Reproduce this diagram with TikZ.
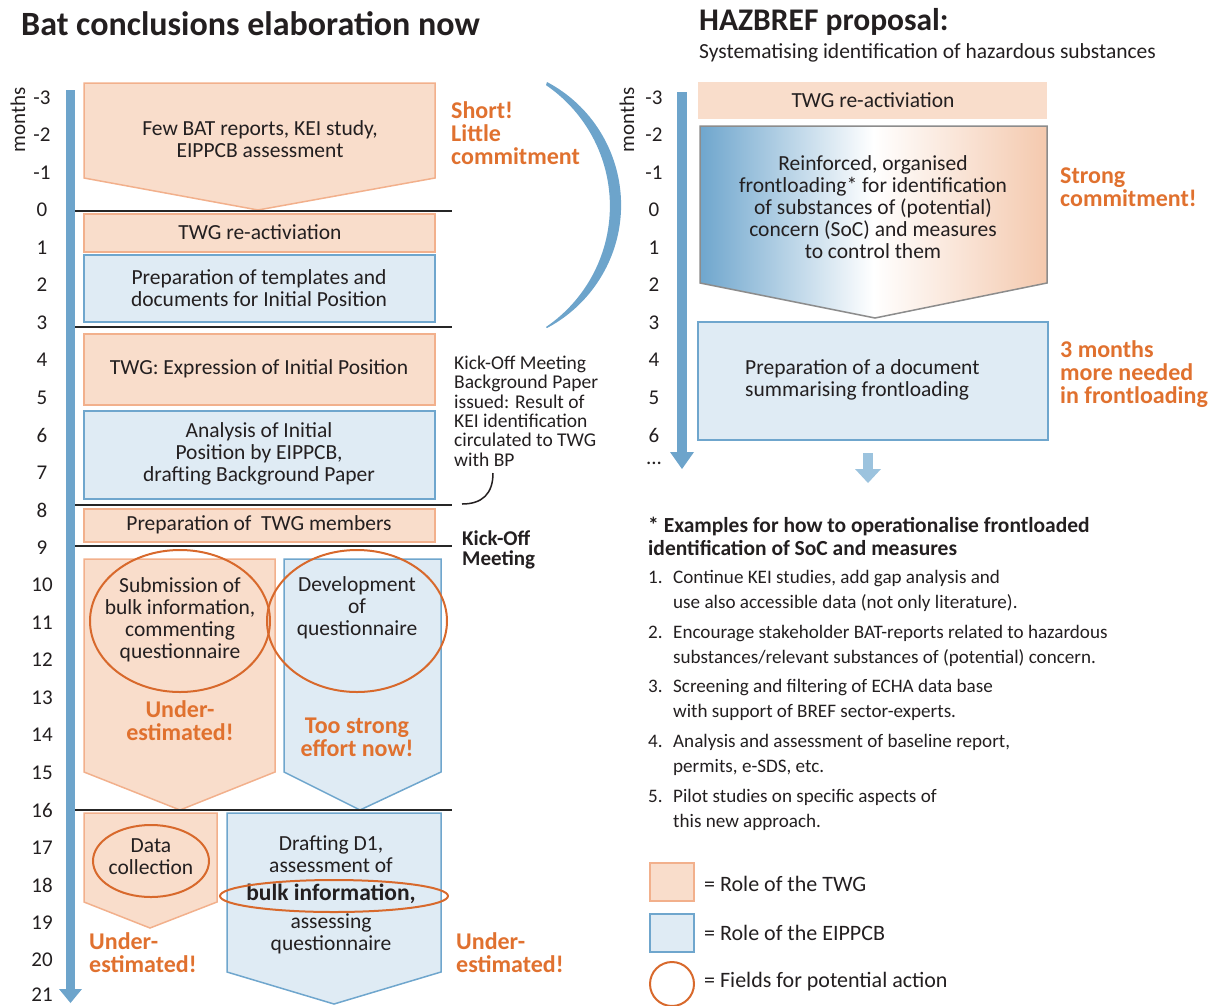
\documentclass[tikz,border=0pt]{standalone}
\usepackage{fontspec}
\setmainfont{Carlito}
\definecolor{peachF}{HTML}{F9DDCB}
\definecolor{peachL}{HTML}{F2B08C}
\definecolor{blueF}{HTML}{DFEBF4}
\definecolor{blueL}{HTML}{6FA6CD}
\definecolor{barC}{HTML}{6DA4CB}
\definecolor{barLight}{HTML}{9CC3DE}
\definecolor{orangeT}{HTML}{E0712F}
\definecolor{ringC}{HTML}{D8692C}
\definecolor{txtC}{HTML}{231F20}
\definecolor{gradR}{HTML}{F4C9AE}
\newcommand\fsz[2]{\fontsize{#1}{#2}\selectfont}
\begin{document}
\begin{tikzpicture}[x=1pt,y=-1pt,
  txt/.style={font=\fsz{21.5}{22}, text=txtC, align=center, inner sep=0pt},
  smalltxt/.style={font=\fsz{19.5}{19.4}, text=txtC, align=left, inner sep=0pt, anchor=west},
  listtxt/.style={font=\fsz{19.1}{24.5}, text=txtC, align=left, inner sep=0pt, anchor=west},
  num/.style={font=\fsz{21}{22}, text=txtC, inner sep=0pt},
  otxt/.style={font=\fsz{24}{23}\bfseries, text=orangeT, align=left, inner sep=0pt},
  peachbox/.style={fill=peachF, draw=peachL, line width=1.5pt},
  bluebox/.style={fill=blueF, draw=blueL, line width=1.5pt},
  ring/.style={draw=ringC, line width=2pt},
  sepline/.style={draw=black!85, line width=1.6pt},
  barstyle/.style={fill=barC, draw=none},
  title/.style={font=\fsz{34}{34}\bfseries, text=txtC, inner sep=0pt, anchor=west}
]
\useasboundingbox (0,0) rectangle (1213,1005);

% ---------- titles ----------
\node[title] (t1) at (21,24) {Bat conclusions elaboration now};
\node[title, font=\fsz{31.5}{31.5}\bfseries] (t2) at (699,22) {HAZBREF proposal:};
\node[txt, font=\fsz{21.5}{21.5}, anchor=west] (t3) at (699,53) {Systematising identification of hazardous substances};

% ---------- left time axis ----------
\fill[barstyle] (66,90) rectangle (75,990);
\fill[barstyle] (59,989) -- (82,989) -- (70.5,1003) -- cycle;
\node[num, rotate=90] (mL) at (18,120) {months};
\foreach \m in {-3,...,20} {
  \node[num] (l\m) at (42,{210+37.5*\m}) {\m};
}
\node[num] (l21) at (42,995) {21};

% ---------- left boxes ----------
\draw[peachbox] (84,83) -- (435,83) -- (435,178) -- (258,210) -- (84,178) -- cycle;
\node[txt] (b1) at (260,139) {Few BAT reports, KEI study,\\EIPPCB assessment};

\draw[peachbox] (84,214) rectangle (435,252);
\node[txt] (b2) at (260,232) {TWG re-activiation};

\draw[bluebox] (84,255) rectangle (435,322);
\node[txt] (b3) at (259,288) {Preparation of templates and\\documents for Initial Position};

\draw[peachbox] (84,334) rectangle (435,405);
\node[txt] (b4) at (259,369) {TWG: Expression of Initial Position};

\draw[bluebox] (84,411) rectangle (435,499);
\node[txt] (b5) at (259,454) {Analysis of Initial\\Position by EIPPCB,\\drafting Background Paper};

\draw[peachbox] (84,509) rectangle (435,542);
\node[txt] (b6) at (259,525) {Preparation of \ TWG members};

\draw[peachbox] (84,559) -- (275,559) -- (275,772) -- (180,810) -- (84,772) -- cycle;
\draw[bluebox] (284,559) -- (441,559) -- (441,772) -- (360,810) -- (284,772) -- cycle;
\node[txt] (b7) at (180,620) {Submission of\\bulk information,\\commenting\\questionnaire};
\node[txt] (b8) at (357,608) {Development\\of\\questionnaire};
\draw[ring] (180,621) ellipse [x radius=90, y radius=71];
\draw[ring] (357,621) ellipse [x radius=90, y radius=71];
\node[otxt, align=center] (o1) at (180,721) {Under-\\estimated!};
\node[otxt, align=center] (o2) at (357,737) {Too strong\\effort now!};

\draw[peachbox] (84,813) -- (217,813) -- (217,902) -- (150,928) -- (84,902) -- cycle;
\draw[bluebox] (227,813) -- (441,813) -- (441,972) -- (334,1004) -- (227,972) -- cycle;
\node[txt] (b9) at (151,857) {Data\\collection};
\draw[ring] (151,861) ellipse [x radius=58, y radius=36];
\node[txt] (b10) at (331,895) {Drafting D1,\\assessment of\\[6pt]{\fsz{23.5}{22}\bfseries bulk information,}\\[6pt]assessing\\questionnaire};
\draw[ring] (334,896) ellipse [x radius=114, y radius=16];
\node[otxt, anchor=west] (o3) at (89,953) {Under-\\estimated!};
\node[otxt, anchor=west] (o4) at (456,953) {Under-\\estimated!};

% ---------- separators ----------
\draw[sepline] (75,211) -- (452,211);
\draw[sepline] (75,327) -- (452,327);
\draw[sepline] (75,505) -- (452,505);
\draw[sepline] (75,546) -- (452,546);
\draw[sepline] (75,810) -- (452,810);

% ---------- side notes left ----------
\node[otxt, anchor=west] (o5) at (451,133) {Short!\\Little\\commitment};
\fill[barC] (547,82) arc[start angle=-62.1, end angle=62.1, radius=139.2]
  -- (546,327) arc[start angle=55.7, end angle=-55.7, radius=146.4] -- cycle;
\node[smalltxt] (kn) at (454,411) {Kick-Off Meeting\\Background Paper\\issued: Result of\\KEI identification\\circulated to TWG\\with BP};
\coordinate (k1) at (493,473);
\coordinate (k2) at (462,504);
\draw[line width=1.5pt, txtC] (k1) .. controls (493,494) and (482,504) .. (k2);
\node[otxt, font=\fsz{21}{20}\bfseries, text=txtC, anchor=west] (ko) at (462,550) {Kick-Off\\Meeting};

% ---------- right time axis ----------
\fill[barstyle] (677,92) rectangle (687,453);
\fill[barstyle] (670,452) -- (694,452) -- (682,469) -- cycle;
\node[num, rotate=90] (mR) at (627,120) {months};
\foreach \m in {-3,...,6} {
  \node[num] (r\m) at (654,{210+37.5*\m}) {\m};
}
\node[num, anchor=south] (rdots) at (654,465) {...};

% ---------- right boxes ----------
\fill[peachF] (698,82) rectangle (1047,119);
\node[txt] (r1) at (873,100) {TWG re-activiation};
\shade[left color=blueL, right color=gradR, middle color=white]
  (700,126) -- (1047,126) -- (1047,283) -- (875,318) -- (700,283) -- cycle;
\draw[draw=black!45, line width=1.5pt]
  (700,126) -- (1047,126) -- (1047,283) -- (875,318) -- (700,283) -- cycle;
\node[txt] (r2) at (873,207) {Reinforced, organised\\frontloading* for identification\\of substances of (potential)\\concern (SoC) and measures\\to control them};
\draw[bluebox] (698,322) rectangle (1048,440);
\node[txt, align=left, anchor=west] (r3) at (745,380) {Preparation of a document\\summarising frontloading};
\node[otxt, anchor=west] (o6) at (1060,187) {Strong\\commitment!};
\node[otxt, anchor=west] (o7) at (1060,374) {3 months\\more needed\\in frontloading};

\fill[barLight] (863,453) rectangle (873,470);
\fill[barLight] (855,469) -- (881,469) -- (868,483) -- cycle;

% ---------- examples ----------
\node[listtxt, font=\fsz{21.5}{23}\bfseries] (ex) at (648,536) {* Examples for how to operationalise frontloaded\\identification of SoC and measures};
\node[listtxt] (i1) at (648,591) {\makebox[25pt][l]{1.}Continue KEI studies, add gap analysis and\\\hspace*{25pt}use also accessible data (not only literature).};
\node[listtxt] (i2) at (648,646) {\makebox[25pt][l]{2.}Encourage stakeholder BAT-reports related to hazardous\\\hspace*{25pt}substances/relevant substances of (potential) concern.};
\node[listtxt] (i3) at (648,700) {\makebox[25pt][l]{3.}Screening and filtering of ECHA data base\\\hspace*{25pt}with support of BREF sector-experts.};
\node[listtxt] (i4) at (648,755) {\makebox[25pt][l]{4.}Analysis and assessment of baseline report,\\\hspace*{25pt}permits, e-SDS, etc.};
\node[listtxt] (i5) at (648,810) {\makebox[25pt][l]{5.}Pilot studies on specific aspects of\\\hspace*{25pt}this new approach.};

% ---------- legend ----------
\draw[peachbox] (650,863) rectangle (694,901);
\draw[bluebox] (650,914) rectangle (694,952);
\draw[ring] (672,984) circle [radius=22];
\node[txt, font=\fsz{22}{22}, anchor=west] (lg1) at (704,884) {= Role of the TWG};
\node[txt, font=\fsz{22}{22}, anchor=west] (lg2) at (704,933) {= Role of the EIPPCB};
\node[txt, font=\fsz{22}{22}, anchor=west] (lg3) at (704,982) {= Fields for potential action};
\end{tikzpicture}
\end{document}
